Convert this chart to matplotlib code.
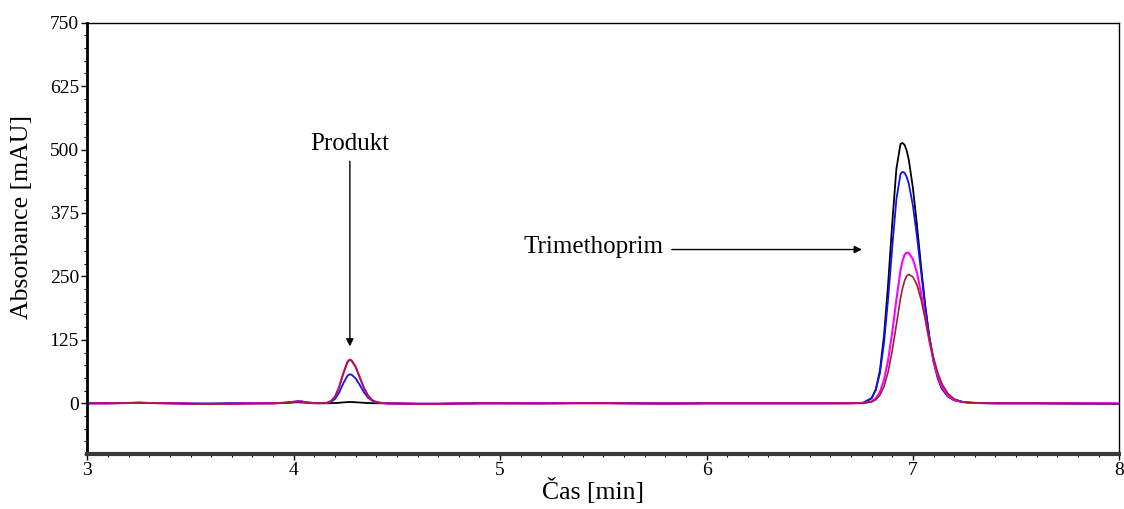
import numpy as np
import matplotlib
matplotlib.use('Agg')
import matplotlib.pyplot as plt
from matplotlib.ticker import MultipleLocator

plt.rcParams['font.family'] = ['Liberation Serif', 'DejaVu Serif']

# retention time [min], shared by all four traces
cas = [3.00, 3.10, 3.20, 3.25, 3.30, 3.40, 3.50, 3.60, 3.70, 3.80,
       3.90, 3.95, 4.00, 4.02, 4.04, 4.06, 4.08, 4.10, 4.12, 4.14,
       4.16, 4.18, 4.20, 4.22, 4.24, 4.26, 4.27, 4.28, 4.30, 4.32,
       4.34, 4.36, 4.38, 4.40, 4.43, 4.46, 4.50, 4.60, 4.70, 4.80,
       4.90, 5.00, 5.20, 5.40, 5.50, 5.60, 5.80, 6.00, 6.20, 6.40,
       6.60, 6.70, 6.76, 6.80, 6.82, 6.84, 6.86, 6.88, 6.90, 6.92,
       6.94, 6.95, 6.96, 6.97, 6.98, 7.00, 7.02, 7.04, 7.06, 7.08,
       7.10, 7.12, 7.14, 7.17, 7.20, 7.24, 7.28, 7.34, 7.40, 7.60,
       7.80, 8.00]

# absorbance [mAU]
cerna = [0, 0, 0.5, 1, 0.5, 0, -0.5, -0.5, 0, 0,
         0, 0.5, 1.5, 2, 1.5, 1, 0.5, 0, 0, 0,
         0, 0.2, 0.5, 1, 1.8, 2.3, 2.5, 2.4, 2, 1.5,
         1, 0.5, 0.2, 0, 0, -0.5, -0.5, -1, -1, -0.5,
         0, 0, 0, 0.5, 0.5, 0, -0.5, 0, 0, 0,
         0, 0.2, 0.9, 10, 27, 64, 133, 235, 355, 462,
         511, 513, 509, 498, 480, 425, 350, 268, 192, 130,
         82, 50, 29, 13, 6, 2.5, 1, 0.3, 0, 0,
         -0.5, -1]

modra = [0, 0, 0.5, 1, 0.5, 0, -0.5, -1, -0.5, 0,
         0, 0.5, 2.5, 3.5, 3, 2, 1, 0.5, 0.3, 0.3,
         0.6, 2.6, 8.6, 21, 39, 54, 57, 56.5, 49, 36,
         22, 11, 5, 2, 0.5, 0, -0.5, -1, -1, -0.5,
         0, 0, 0, 0.5, 0.5, 0, -0.5, 0, 0, 0,
         0, 0.3, 1.0, 10, 26, 59, 119, 206, 308, 402,
         452, 456, 454, 446, 433, 390, 328, 258, 188, 130,
         86, 53, 30, 14, 6.5, 2.7, 1.1, 0.3, 0, 0,
         -0.5, -1]

purpurova = [0, 0, 0.5, 1.5, 0.5, 0, -1, -1.5, -1, 0,
             0, 1, 3, 4, 3.5, 2, 1, 0.5, 0.3, 0.5,
             0.9, 3.9, 12.9, 32, 59, 81.6, 86, 84.8, 72, 51,
             30.2, 14.9, 6.1, 2.1, 0.5, 0, -0.5, -1, -1, -0.5,
             0, 0, 0, 0, 0, 0, -0.5, 0, 0, 0,
             0, 0, 0.4, 3.7, 9.6, 22, 46, 85, 140, 204,
             262, 281, 293, 297, 296.5, 284, 257, 216, 168, 122,
             84, 54, 33, 15, 6.5, 2.5, 1.0, 0.3, 0, 0,
             0, 0]

tmavocervena = [0, 0, 0.5, 1, 0.5, 0, -1, -1.5, -1, -0.5,
                0, 1, 3, 4, 3.5, 2, 1, 0.5, 0.3, 0.5,
                0.9, 3.8, 12.7, 31.5, 58, 80.5, 85, 84, 71.5, 51,
                30.5, 15.2, 6.3, 2.2, 0.5, 0, -0.5, -1, -1, -0.5,
                0, 0, -0.5, 0, 0, 0, -0.5, 0, 0, 0,
                0, 0, 0.3, 2.7, 6.9, 16, 33, 62, 104, 155,
                207, 227, 242, 251, 254, 249, 233, 204, 166, 126,
                90, 61, 39, 19, 8.5, 3, 1.2, 0.4, 0, 0,
                -0.5, -1]

fig = plt.figure(figsize=(11.24, 5.09), dpi=100)
ax = fig.add_axes([0.0777, 0.108, 0.9181, 0.8474])

ax.plot(cas, cerna, color='black', lw=1.3)
ax.plot(cas, modra, color='#1010ff', lw=1.3)
ax.plot(cas, purpurova, color='#ff00ff', lw=1.5)
ax.plot(cas, tmavocervena, color='#a0202a', lw=1.2)

ax.set_xlim(3, 8)
ax.set_ylim(-100, 750)
ax.xaxis.set_major_locator(MultipleLocator(1))
ax.xaxis.set_minor_locator(MultipleLocator(0.1))
ax.yaxis.set_major_locator(MultipleLocator(125))
ax.yaxis.set_minor_locator(MultipleLocator(25))
ax.tick_params(which='major', direction='out', length=4, width=1, labelsize=14, pad=2)
ax.tick_params(which='minor', direction='out', length=2.5, width=0.8)

ax.spines['left'].set_linewidth(2)
ax.spines['bottom'].set_linewidth(3)
ax.spines['bottom'].set_color('#3a3a3a')
ax.spines['top'].set_linewidth(1)
ax.spines['right'].set_linewidth(1)

ax.set_xlabel('Čas [min]', fontsize=18.5)
ax.set_ylabel('Absorbance [mAU]', fontsize=18.5)
ax.xaxis.set_label_coords(0.49, -0.056)
ax.yaxis.set_label_coords(-0.053, 0.55)

arrow = dict(arrowstyle='-|>', color='black', lw=1, mutation_scale=11, shrinkA=0, shrinkB=0)
ax.text(4.272, 510, 'Produkt', ha='center', va='center', fontsize=18)
ax.annotate('', xy=(4.272, 112), xytext=(4.272, 477), arrowprops=arrow)
ax.text(5.111, 307, 'Trimethoprim', ha='left', va='center', fontsize=18)
ax.annotate('', xy=(6.753, 303), xytext=(5.832, 303), arrowprops=arrow)

fig.savefig('out.png', dpi=100)
